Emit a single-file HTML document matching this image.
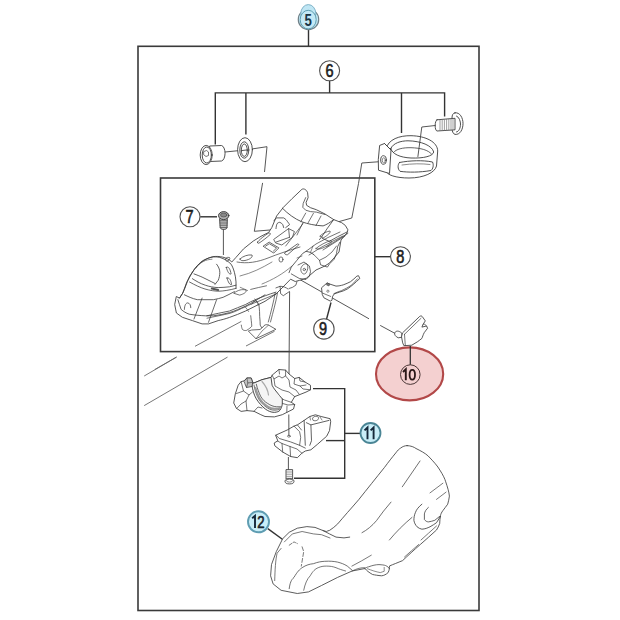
<!DOCTYPE html>
<html><head><meta charset="utf-8">
<style>
html,body{margin:0;padding:0;background:#fff;width:620px;height:620px;overflow:hidden}
svg{display:block}
text{font-family:"Liberation Sans",sans-serif}
</style></head><body>
<svg width="620" height="620" viewBox="0 0 620 620">
<rect width="620" height="620" fill="#fff"/>
<!-- frames -->
<g fill="none" stroke="#3a3a3a" stroke-width="1.6">
<rect x="138" y="46.3" width="341" height="564.2"/>
<rect x="160.5" y="178" width="214.3" height="173.6"/>
</g>
<!-- bracket lines -->
<g fill="none" stroke="#333" stroke-width="1.4">
<line x1="308.5" y1="29.5" x2="308.5" y2="46"/>
<line x1="329.6" y1="80.8" x2="329.6" y2="92.9"/>
<polyline points="215.3,144.5 215.3,92.9 444.6,92.9 444.6,116.5"/>
<line x1="245.9" y1="92.9" x2="245.9" y2="134.4"/>
<line x1="401.5" y1="92.9" x2="401.5" y2="133"/>
<line x1="200.2" y1="216.8" x2="217" y2="216.8"/>
<line x1="374.8" y1="256.7" x2="390.6" y2="256.7"/>
<line x1="326.5" y1="319.2" x2="331" y2="302.5"/>
<polyline points="313,388.6 344.7,388.6 344.7,478.3 294,478.3"/>
<line x1="326" y1="440.6" x2="344.7" y2="440.6"/>
<line x1="344.7" y1="433.4" x2="360.5" y2="433.4"/>
<line x1="267.8" y1="528.6" x2="282.7" y2="539.5"/>
</g>
<!-- thin leader lines -->
<g fill="none" stroke="#444" stroke-width="0.9">
<polyline points="225,152 245,150 267,146.7 264.5,172"/>
<polyline points="262.6,182.9 254.3,231.3 277.1,229.4"/>
<polyline points="382,161.5 361.8,163 358.5,183.6 351.8,218 339,221.6"/>
<line x1="291" y1="274.5" x2="369" y2="318.8"/>
<line x1="380.2" y1="325.4" x2="394.8" y2="333.3"/>
<line x1="223.4" y1="229" x2="223.4" y2="255"/>
<line x1="289.6" y1="291.8" x2="289" y2="374.7"/>
<line x1="288.4" y1="457" x2="288.4" y2="472"/>
</g>
<!-- diagonal body lines (light) -->
<g fill="none" stroke="#666" stroke-width="0.9">
<line x1="144.2" y1="376" x2="176.5" y2="357.1"/>
<line x1="144.2" y1="405.6" x2="227.5" y2="357.1"/>
<line x1="154.8" y1="369.5" x2="176.6" y2="357"/>
<line x1="195" y1="346.3" x2="241.3" y2="321.4"/>
<line x1="246" y1="346" x2="274.5" y2="331.3"/>
</g>
<!-- PARTS -->
<g id="parts" fill="#fff" stroke="#3c3c3c" stroke-width="0.9" stroke-linejoin="round" stroke-linecap="round">
<!-- barrel nut -->
<path d="M210,146 L221.5,145.5 A4,7.8 0 0 1 221.5,161 L210,161.5 Z"/>
<ellipse cx="206.2" cy="155" rx="6" ry="9.6"/>
<ellipse cx="206.8" cy="155" rx="4.6" ry="8"/>
<path d="M204,151.5 l2.5,-1 l2,1.5 l0,3.5 l-2.5,1 l-2,-1.5 z" stroke-width="0.7"/>
<!-- washer -->
<ellipse cx="245" cy="149.7" rx="7.4" ry="12"/>
<ellipse cx="244.3" cy="150" rx="4.5" ry="8.2"/>
<ellipse cx="244.3" cy="150.2" rx="3" ry="6.2"/>
<line x1="241.3" y1="150.6" x2="247.3" y2="149.9" stroke="#444" stroke-width="0.9"/>
<!-- bolt -->
<path d="M455,112.8 C460,112 463,118 463,123.5 C463,129.5 460,135 455,134.4 C453,134 452,131 452,128 L452,118 C452,115 453,113 455,112.8 Z"/>
<path d="M437,119.8 L455,118.3 L455,129.8 L437,131 C434.5,130.5 434.5,120.3 437,119.8 Z"/>
<g fill="none" stroke="#777" stroke-width="0.7">
<path d="M440,120 v10.6 M442.2,119.8 v10.7 M444.4,119.6 v10.7 M446.6,119.4 v10.7 M448.8,119.2 v10.7 M451,119 v10.7 M453,118.8 v10.6"/>
</g>
<path d="M456.5,116 C459.5,117 460.5,122 460.5,124 C460.5,128 459,131.5 456.5,132" fill="none"/>
<!-- clamp band -->
<path d="M386,149 C388,139 400,135.5 411,135.7 C426,136 437.5,142 437.7,151 L436.5,166 C435,172.5 424,178 409,178 C396,178 386.5,175 386,171 Z"/>
<path d="M390.8,148.5 C393,143 401,140.8 408,140.8 C421,141 432,145.5 433.7,152 C433,156 424,158.5 411,158 C400,157.5 392,154 390.8,148.5 Z"/>
<path d="M393.5,152.5 C396,149 403,147.5 411,147.7 C421,148 428,150 431.5,154" fill="none" stroke-width="0.8"/>
<path d="M399.5,162.5 C410,160.5 423,160 432.5,162 C434,165 433,169 431,170.5 C420,172.5 408,172.5 400,171.3 C397.5,169 397.5,164.5 399.5,162.5 Z"/>
<path d="M402,165 C412,163.5 422,163.5 430,164.5" fill="none" stroke-width="0.6"/>
<path d="M380,145.3 L384.5,143.5 L391,150 L389.5,173.5 L378.5,170.2 L378.3,160 Z"/>
<ellipse cx="383.5" cy="160" rx="2.8" ry="4.3"/>
<ellipse cx="383.8" cy="160.3" rx="1.5" ry="2.6" fill="none" stroke-width="0.6"/>
<path d="M384.5,143.5 L391,150" fill="none"/>
<polyline points="435.3,125.5 421.8,127 417.9,156.5" fill="none" stroke="#444" stroke-width="0.9"/>
<!-- screw 7 -->
<path d="M220,218.5 L227.3,218.5 L227,228 C226,230 221,230 220.3,228 Z" fill="#c8c8c8" stroke="#333"/>
<path d="M220,220.8 h7.3 M220,223 h7.2 M220.1,225.2 h7 M220.3,227.4 h6.6" fill="none" stroke="#555" stroke-width="0.9"/>
<ellipse cx="223.7" cy="215.6" rx="5.2" ry="4" fill="#b0b0b0" stroke="#333"/>
<ellipse cx="223.7" cy="215" rx="3.2" ry="2" fill="#888" stroke="#444" stroke-width="0.6"/>
</g>
<!-- MAIN BODY -->
<g id="body" fill="#fff" stroke="#3a3a3a" stroke-width="0.85" stroke-linejoin="round" stroke-linecap="round">
<path d="M176.3,312.6 L174.7,304.5 L176.3,296.5 L179.5,298.1 L182.7,293.2 L186.8,282.1 L192.4,272.3 C196,266 203,259 212.9,256.7 C219,255.8 227,257 231.8,262 L235.8,257.6 L243.5,248.9 L253.2,241.1 L261,236.3 L268.7,232.4 L271.8,227.6 L276.6,216 L283.4,207.3 L292.1,198.6 L301.8,189.4 C303,188.5 306,188.6 307.6,192.7 L308.1,197.6 L306.1,202.4 L306.6,205.3 L310.5,207.7 L316.3,209.7 L325,214 L333.7,219.6 L341.7,222.7 L345.3,225.4 L347.9,229.8 L347,233 L341,240 L339,252 L334,258 L329,263.4 L324.5,266.2 L316,270 L306.5,278.1 L299.7,280.3 L295.2,281.5 L290.6,279.2 L283,287 L276,294 L265,301.3 L245.6,311 C240,313.5 235,315.5 229.5,317.4 C225,319 221,320 218.2,320.6 L208.5,323.9 L202.1,323.9 L192.4,320.6 L182.7,317.4 Z"/>
<g fill="none">
<!-- peak inner -->
<path d="M305.7,197.6 L303.2,203.4 L302.8,207.3 L305.7,210.2 L310.5,211.6 L316.3,212.1 L325,214.5" stroke-width="0.75"/>
<!-- band -->
<path d="M282.4,208.2 C288,214 295,219 301.8,221.8 C308,224 315,225.5 323.1,225.9 C327,224.5 330,222.5 333.7,219.6" />
<path d="M305.7,213.1 L300.8,221.8 M313.4,213.4 L308.1,222.8 M321,216 L316,225.5" stroke-width="0.7"/>
<!-- right block -->
<path d="M333.7,219.6 L327.5,228.1 L322.2,236.1 L319.5,239.6 M322.2,238.3 L329.3,241.4 L337.3,236.9 L347,232" stroke-width="0.8"/>
<path d="M347.9,233.4 L326.6,246.7 M345,236 L323,250" stroke-width="0.7"/>
<!-- left hole features -->
<path d="M274,220.8 C275,219 276,218 277,217.9 L283.7,217.9 C285.5,219 287,220.5 287.6,221.8 C288.5,222.8 289.2,223.8 289.5,224.7 L285.7,227.6" stroke-width="0.8"/>
<path d="M276,228.6 C276.2,226.5 276.5,225 277,223.7 C277.8,222.8 278.8,222.3 279.8,222.3 C281,222.8 282.2,223.6 282.8,224.7 L283.7,227.6" stroke-width="0.8"/>
<path d="M302.8,222.8 L297,235 M285.7,246 L303,223.7" stroke-width="0.7"/>
<!-- slots -->
<path d="M257.6,242.1 C258,240.5 266,234.5 268.5,233.2 C270,232.8 271,233.5 270.2,234.5 C267,237.5 261,242 258.8,243.2 C257.8,243.5 257.4,243 257.6,242.1 Z" stroke-width="0.75"/>
<path d="M263.4,246 L269.2,242.1 L278.9,247.9 L274,252.8 Z M265.5,246.2 L269.3,243.7 L276.6,248 L273.5,251" stroke-width="0.75"/>
<path d="M274,239.2 L288.6,228.6 L294.4,231.5 L292.4,237.3 L281.8,245 L276,243.1 Z M276,242.1 L289.5,237.3 M288.6,228.6 L289.5,237.3" stroke-width="0.75"/>
<path d="M284.7,252.8 L297.3,244 C298.3,243.7 299,244.3 298.7,245 L287.6,254.7 C286.5,255 285,254.5 284.7,253.7 Z" stroke-width="0.75"/>
<ellipse cx="281" cy="259.5" rx="2" ry="2.6" stroke-width="0.7"/>
<!-- body surface lines -->
<path d="M237,262 C247,264 258,262 268,258 C278,254 290,250 300,247" stroke-width="0.7"/>
<path d="M240,276 C252,273 262,268 272,262" stroke-width="0.6"/>
<path d="M262,284 C272,280 283,274 292,266" stroke-width="0.6"/>
<!-- mechanism -->
<path d="M289,272.7 L291.3,267.1 L296.9,260.3 L302.6,253.5 L306,251.3 L310.5,252.4 L313.9,254.7" stroke-width="0.8"/>
<path d="M291.3,273.9 L299.2,278.4 L306,279.5 L309.4,276.1 L310.5,271.6 L309.4,266 L304,262 L298,265" stroke-width="0.75"/>
<path d="M301,268 C302,265 305,263 307,264 C308.5,266 308,270 306,273 C304,275 302,274 301,271 Z" stroke-width="0.7"/>
<circle cx="304.3" cy="269.5" r="1.2" stroke-width="0.7"/>
<path d="M319.5,260.3 L320.6,264.8 L327.4,267.1 L329.7,263.7 L334.2,259.2 L336.5,253.5 L337.6,246.8 L339.8,242.3" stroke-width="0.75"/>
<path d="M313.9,254.7 L319.5,260.3 L326,257 L332,252 L336.5,246" stroke-width="0.7"/>
<path d="M306,251.3 L316,244 L328,237.5 L340,232 M309,255 L320,248 L333,241 L343,236" stroke-width="0.7"/>
<path d="M316,248.5 C320,245 326,242 331,240.5 C332.5,241.5 330,244.5 326,246.5 C322,248.5 318,250 316,248.5 Z" stroke-width="0.7"/>
<path d="M320,236 C323,233 327,231.5 330,231 C331,232.5 328,235 324,237.5 Z" stroke-width="0.7"/>
<path d="M296.9,281.8 L295.8,285.2 L292.4,287.4 L289,288.5" stroke-width="0.75"/>
<path d="M310.5,252.4 L313,246 M297,258 L302,256" stroke-width="0.6"/>
<!-- dome -->
<path d="M192.4,272.3 C195,268 200,262 203.7,260.2 C207,258.5 210,257.3 213.4,256.9 C216,256.8 218,256.9 219.8,257.4 C222,258 224,259 226.3,260.2 C228,261.5 230,263 231.1,264.2 C232.5,266.5 233.5,269 234.4,272.3 C235.2,275 235.8,278.5 236,281.9 L236,288.4"/>
<path d="M194,273.9 C197,275 199.5,276 202.1,277.1 C205,278.5 209,280.5 211.8,281.9 L215,283.5" stroke-width="0.8"/>
<path d="M216.6,264.2 C218.5,266.5 219.8,269.5 219.8,272.3 C219.8,275 219.2,278 218.2,280.3 L215,284.4" stroke-width="0.8"/>
<path d="M196,268 C200,262 206,259.5 212,259.2" stroke-width="0.6"/>
<path d="M192.4,278.7 C196,281 200,283.5 205.3,285.2 C209,286.5 214,287.5 218.2,287.6 C222,287.5 226,287.2 229.5,286.8 L236,285.2" stroke-width="0.8"/>
<path d="M189.5,282 C195,285 200,287.5 205,289 C210,290.5 215,291.2 219,291.2 C224,291 229,290.2 236,288.4" stroke-width="0.75"/>
<path d="M211.8,288.6 L218.2,290" stroke="#555" stroke-width="2"/>
<path d="M192.4,272.3 C191,274 190,275.5 189.2,277.1 C188,280 187,282.5 186,285.2 C185,288 183.8,290.8 182.7,293.2 L179.5,298.1" stroke-width="0.85"/>
<path d="M177.9,299.7 C179,303 180,306.5 181.1,309.4 C183.5,311.5 186,313 189.2,314.2 C194,315 200,315.6 205.3,315.8 L213.4,315.8 C219,315.2 224,314 229.5,312.6 C235,311 240,308.5 245.6,306.1 C252,303 258,299 265,294.8" stroke-width="0.8"/>
<path d="M184.4,294.8 C188,296.5 192,298.5 197.3,299.7 L213.4,299.7 C217,299 220,298.3 223.1,297.3 C227,295.5 231,293.5 234.4,291.6" stroke-width="0.8"/>
<path d="M202.1,298.1 L194,319 M216.6,299.7 L208.5,322.3" stroke-width="0.75"/>
<path d="M184.4,309.4 C184.5,305 186,303 187.6,302.9 C189.5,303 190.8,305 190.8,307.7" stroke-width="0.75"/>
<path d="M226.3,267.4 C228,266 230,268 231.1,273.9 C229.5,275 227.5,272 226.3,267.4 Z" stroke-width="0.75"/>
<path d="M227,278 C229,277 231,280 231.5,284.5 C230,285.5 228,282 227,278 Z" stroke-width="0.75"/>
<path d="M225.5,260 C225,258 227,256.8 229.5,257.5 C230.5,259 229,261 226.5,261.2" stroke-width="0.7"/>
<path d="M240,259 C243,256 248,254.5 252,255 C253,257 250,259.5 245,260.5 C242,261 240,260.5 240,259 Z" stroke-width="0.75"/>
<path d="M234,293 C238,290 242,289 246,290 C247,292 244,294 240,295 Z" stroke-width="0.7"/>
<!-- cable / lower -->
<path d="M206.9,315.8 C215,314 222,312.5 229.5,311 C235,309 240,306.5 245.6,304.5 C249,302.5 252,301 255.3,299.7 C262,297 268,294.5 276,292.1" stroke-width="0.8"/>
<path d="M207,318.2 C215,316.5 223,315 230,313.3 C236,311.5 240,309 245,307 C250,304.5 254,303 258,301.5 C264,299 270,296.5 276,294" stroke-width="0.7"/>
<path d="M250.7,289.4 C256,288 261,287 266.5,285.8" stroke-width="0.7"/>
<path d="M240.2,287.3 L247.6,290.5" stroke-width="0.6"/>
<path d="M275.9,287.9 L280.1,286.3 L280.6,293.6 L283.3,295.7 L289.5,291.5 M280.1,286.3 C283,286 286,287.5 288,289" stroke-width="0.75"/>
<path d="M277.5,293 C276,302 273,312 270.5,322 M275.2,293 C273.5,302 271,312 268.3,322" stroke-width="0.7"/>
<path d="M251.8,304.1 C253,302 255,300.5 256,301 C258,302.5 259.1,304 259.1,306.2 C259.5,310 259.7,313 259.7,316.7 C260,320 260.2,322.5 260.2,325.1 C260.8,326.5 261.5,327.5 262.3,328.3" stroke-width="0.75"/>
<path d="M254.9,298.9 C256.5,300.5 257.5,302.5 258.1,305.2" stroke-width="0.6"/>
<path d="M248.6,331.4 L256,338.7 L275.9,329.3 L268.6,325.1 C266,324 264,325 263,327 L260,329.5 L252,330 Z" fill="#fff" stroke-width="0.75"/>
<path d="M256,338.7 L262,331 L268.6,325.1" stroke-width="0.6"/>
<path d="M241.3,325.1 C241.5,327 242,328.5 242.3,329.3 C243.5,330.5 245,330.7 246.5,330.4 C249,329 250.8,327.5 251.8,326.2 C251.5,322 251,318.5 250.7,315.7" stroke-width="0.7"/>
<path d="M245.5,307.3 C246.5,308.5 247.8,310 248.6,311.5" stroke-width="0.6"/>
</g>
</g>
<!-- PART 9 lever -->
<g fill="#fff" stroke="#3c3c3c" stroke-width="0.85" stroke-linejoin="round">
<path d="M321.5,287.8 L327.1,282.9 L329.9,284.1 L336,286.1 C339,286 341,285.5 343.2,284.9 C346,283.8 348.5,282.8 350.5,281.7 C353,279.8 355,278 356.9,276.1 L358.5,275.7 L359.8,278.5 C357.5,280.5 355.5,282.5 353.7,284.1 C351.5,286 349.5,287.5 347.3,289 C344.5,290.5 342,291.5 339.2,292.2 L334.4,293.8 L332.7,296.2 L331.9,300.3 L330.3,301.1 L323.9,297.8 L322.3,294.6 Z"/>
<path d="M322.3,293 L331.1,296.6 M333.5,293.8 C336,292.5 339,291.5 341.6,290.6 C345,289 348.5,287.2 351.3,285.3 C353.5,283 355.8,280.8 357.7,278.5" fill="none" stroke-width="0.7"/>
<path d="M327.1,282.9 L329.9,284.1 L329,286 L326.5,285 Z" fill="#777" stroke-width="0.5"/>
<circle cx="327.9" cy="291.2" r="1.1" fill="none" stroke-width="0.6"/>
</g>
<!-- PART 10 -->
<g fill="#fff" stroke="#3c3c3c" stroke-width="0.85" stroke-linejoin="round" stroke-linecap="round">
<path d="M401.6,333 C399,330.5 396,330.5 394.8,332.7 C394,334.5 395.5,336.5 398.2,337.8 L401.6,337.3 Z"/>
<path d="M402.7,332.7 L419.7,316.4 C421,315.5 422,316 422.5,316.9 L425.3,320.9 L423.1,324.3 L421.9,327.1 L426.5,326 L427.6,328.2 L424.2,332.7 C423,335 422.5,337 421.9,338.4 C420,340 418.5,341 417.4,341.8 L411.8,345.2 L403.9,345.7 L402.7,342.9 L401.6,337.3 Z"/>
<path d="M404.5,334.3 L421,318.3 M404.5,334.3 L405.3,345.5" fill="none" stroke-width="0.7"/>
<path d="M423.1,324.3 C424.5,323.5 425.5,324.5 426.5,326" fill="none" stroke-width="0.7"/>
</g>
<!-- PART 11a -->
<g fill="#fff" stroke="#3a3a3a" stroke-width="0.85" stroke-linejoin="round" stroke-linecap="round">
<path d="M233.8,402.6 L235.3,393.9 L238.2,385.2 L241.1,381.6 L244,380.9 L246.9,378 L251.2,378 L252.7,382.3 L254,383 L262,379.7 L271,377.4 L272.1,375.2 L278.9,369.5 L285.6,370.1 L289,374 L294.7,378.5 L299.2,377.4 L304.8,381.9 L310.5,385.3 L310.5,389.8 L306,392.1 L294.7,396.6 L291.3,402.3 L294.7,404.5 L293.5,409 L286.8,412.4 L282.3,414.7 L274.4,416.9 L265,416.5 L260.8,414.7 L254,411.3 L247,410.6 L241.1,411.4 L236.7,408.5 Z"/>
<path d="M251.8,384.2 C252.5,390 254,395 256.3,398.9 C259,403 262,406.5 265.3,409 C268,411 271,412.4 274.4,412.4 C277,412.2 279,411.5 280,410.2 C281.5,408 282.3,405.5 282.3,403.4 L282.3,398.9 C280,396 278.5,394.5 277.7,393.2 C275,390 273.5,388 272.1,385.3 L271,377.4 L262,379.7 L254,383 Z" fill="#f5f5f5" stroke-width="0.9"/>
<g fill="none">
<path d="M256.3,384.2 C257.5,389 259,393 260.8,396.6 C263,400 265,402 267.6,403.4 C270.5,405.5 273.5,406.5 276.6,406.8 L281.1,406.8" stroke-width="0.75"/>
<path d="M254,385 C255,391 257,396 259,399.5 C262,404 266,407.5 270,409.3 C273,410.5 277,410.5 280,409" stroke-width="0.7"/>
<path d="M255.5,388 C257,394 259.5,399 262.5,402.5 C266,406 270,408.3 274,408.8 C277,409 279,408.5 280.5,407.5" stroke="#9a9a9a" stroke-width="2"/>
<path d="M262,381.5 C266,386 268,390 268.5,395" stroke="#aaa" stroke-width="1.2"/>
<path d="M241.1,381.6 L243.5,391 L236.5,393.5 M243.5,391 L249,395 L252.5,392" stroke-width="0.7"/>
<path d="M244.2,381 L246.9,378 L251.2,378 L252.7,382.3 L252,386.5 L246.5,387.5 L245,384 Z" fill="#c4c4c4" stroke-width="0.75"/>
<path d="M246.9,378 L247.8,383 L252.7,382.3 M247.8,383 L246.5,387.5" stroke-width="0.6"/>
<path d="M249,395 L246,401 L247,410.6 M236.7,408.5 L241,404 L246,401" stroke-width="0.7"/>
<path d="M254,411.3 L258,407 L262,408" stroke-width="0.7"/>
<path d="M272.1,375.2 L274,379 L279,376 L282,378 L285.6,376 L285.6,370.1" stroke-width="0.7"/>
<path d="M278.9,369.5 L279.5,374 M285.6,376 L289,380 L290,387 L296,390 L299,394" stroke-width="0.7"/>
<path d="M274,379 L275,386 L282,390 L289,392 L294.7,396.6" stroke-width="0.7"/>
<path d="M294.7,378.5 L294,384 L300,386 L306,385 M299.2,377.4 L300,381 L304.8,381.9 M300,386 L303,389 L310.5,389.8" stroke-width="0.7"/>
<path d="M282.3,398.9 L284.5,400 L291.3,402.3 M282.3,403.4 L288,405 L294.7,404.5 M286.8,412.4 L287,406" stroke-width="0.7"/>
</g>
</g>
<!-- PART 11b -->
<g fill="#fff" stroke="#3a3a3a" stroke-width="0.85" stroke-linejoin="round" stroke-linecap="round">
<path d="M275.9,435.1 L287.2,430 L294,426.1 L297.4,424.9 L304.1,420.4 L309.8,416.5 L315.4,414.8 L321.1,416.5 L330.1,418.7 L330.7,421.5 L329.5,430.6 L326.7,436.2 L317.7,444.1 L310.9,449.8 L305.3,451 L301.9,453.2 L297.4,457.7 L290.6,456.5 L282.7,452 L274.8,445.8 L274.2,443 L277.5,441 Z"/>
<g fill="none">
<path d="M306.4,422.7 L310.9,424.9 L329,420.4 M310.9,424.9 L311.5,440.7 L309.8,445.3 M304.1,420.4 L305.3,445.3" stroke-width="0.8"/>
<path d="M312.5,418.5 C313,416 317,415.5 318.5,417.5 C319,420 316,421.5 313.5,420.5 Z" stroke-width="0.7"/>
<path d="M320,417 L322,420 M309.8,416.5 L310.5,420" stroke-width="0.6"/>
<path d="M275.9,435.1 L279.3,438.5 L290.6,441.9 L299.6,445.3 L305.3,448.1" stroke-width="0.75"/>
<path d="M277.5,441 L282,443.5 L290,446.5 L297,449 L301.9,453.2 M282,443.5 L282.7,452 M290,446.5 L290.6,456.5" stroke-width="0.7"/>
<path d="M294,426.1 L299.6,431.7 L300.7,437.4 L299.6,445.3 M297.4,424.9 L301.5,430" stroke-width="0.7"/>
<ellipse cx="288.9" cy="436.2" rx="1.4" ry="1" stroke-width="0.6"/>
</g>
</g>
<line x1="288.8" y1="414.5" x2="288.9" y2="436" stroke="#444" stroke-width="0.9"/>
<!-- screw 11 -->
<g fill="#fff" stroke="#3a3a3a" stroke-width="0.85">
<path d="M286,469.6 L292.6,469.6 L292.6,479 L286,479 Z" fill="#eee"/>
<path d="M286,472 h6.6 M286,474.3 h6.6 M286,476.6 h6.6" fill="none" stroke="#777" stroke-width="0.6"/>
<ellipse cx="289.5" cy="481.3" rx="4.5" ry="2.6"/>
<ellipse cx="289.5" cy="480.6" rx="3" ry="1.5" fill="none" stroke-width="0.6"/>
</g>
<!-- HOOD 12 -->
<g fill="#fff" stroke="#404040" stroke-width="0.85" stroke-linejoin="round" stroke-linecap="round">
<path d="M407.1,445.6 C411,445.8 414,447 416,448.5 C420,450.5 425,453 428.2,456 C434,462 437.5,466 439.9,470.1 C443,475 445,479 445.7,481.8 C447.5,487 449,492 449.4,496.1 C449,499 448.5,501.5 447.7,504.2 C446,506.5 444.5,508.5 442.9,510.6 C441.5,512.5 440.8,514 440.5,515.5 C440,518 439.8,521 439.7,523.5 C438.8,526 437.8,528 436.5,530 C431,535 425.5,540 420.3,544.5 C414,550 408,555.5 402.6,560.6 C398,562.5 393,564.5 389.6,565.9 C389.5,568 389.4,570 388.1,572.6 C386,574.5 384,575.5 381.6,575.8 C378,575.5 375,575 372.6,574.5 C369,572.5 366.5,570.5 365,568.5 L352.1,571 L337.6,577.4 L321.5,585.5 L308.5,591.9 L297.3,593.5 L281.1,590.3 L273.1,583.9 L270.6,575.8 L271.5,564.5 L276.3,551.6 L282.7,538.7 L289.2,532.3 L297.3,528.2 L306.9,526.6 L315,527.4 L323.1,530.6 L326.3,531.5 C327,531 328.5,530.8 329.7,530.3 C332.5,528.5 335,526.5 337.7,523.9 C341,520 344,516.5 347.4,512.6 C351.5,508 355,504 358.7,499.7 C363,494.5 367,489 371.6,483.5 C376,478 380,473 384.5,467.4 C388.5,462 392,457.5 395.8,452.9 C397.5,450.5 399,449 400.6,448.1 C402.5,446.5 405,445.6 407.1,445.6 Z"/>
<g fill="none">
<path d="M323.1,530.6 L329.5,533.9 L336,537.1 L344,537.9 L349.7,537.1" />
<path d="M284.4,541.9 L292.4,533.9 L302.1,531.5 L313.4,533.9 L321.5,534.7 L330,538" stroke-width="0.7"/>
<path d="M289.2,588.7 C290,583 291,580 294,577.4 C297,572 300,569 302.1,567.7 C306,565 310,564 313.4,563.7 C318,562 321,561.5 324.7,561.3 C330,561 334,561.3 337.6,562.1 C341,563 344,564 347.3,566.1 L352.1,570.2" stroke-width="0.75"/>
<path d="M303.7,590.3 C305,584 307,579 310.2,575.8 C313,571 315,569 318.2,567.7 C321,566.5 323,566.1 326.3,566.1 C330,566.1 333,566.5 336,567.7 C339,569 342,570 345.6,571" stroke-width="0.7"/>
<path d="M274.7,580.6 C275,570 275.5,560 277.1,553.2 L281.1,548.4" stroke-width="0.7"/>
<path d="M289.2,545.2 L294,541.9 L297.3,543.5" stroke-width="0.7" stroke-dasharray="3 1.5"/>
<path d="M302.1,546.8 L303.7,551.6 L301.3,566.1" stroke-width="0.7" stroke-dasharray="4 2"/>
<path d="M420,461 L402.3,486.8" stroke-width="0.75"/>
<path d="M391,502.1 C386,508 381,514 376.5,520.6 C372,526 367,530 362,532.7" stroke-width="0.75"/>
<path d="M412,517.4 C404,524 396,532 389.4,540" stroke-width="0.75"/>
<path d="M421.9,504.2 C418.5,507 416.5,509.5 415.5,512.3 C414.3,515 413.9,517.5 413.9,520.3 C414.3,523 415.5,525 417.1,526.8 C418.5,528 420,528.8 421.9,529.2 C425,529 427.5,528 430,526.8 C432.5,525.5 434.5,524 436.5,522.7 L440.5,516.3" stroke-width="0.85"/>
<path d="M428.4,507.4 C426,509.5 424.8,511.5 424.4,513.9 L424.4,519.5 C425.5,521 426.8,521.8 428.4,521.9 C430.5,521.6 432.8,521 434.8,520.3 L439.7,516.3" stroke-width="0.8"/>
<path d="M430,492.9 L442.9,483.2 M436.5,499.4 L446.1,492.1" stroke-width="0.7"/>
<path d="M436.5,526 C431,531 426,535.5 421,540 M418.7,544.5 C414,548.5 409,553 404.5,557" stroke-width="0.7"/>
<path d="M365,568.5 C366,567.5 367.5,567 368.7,566.8 C372,565.5 376,564.6 379,564.6 C382,564.8 384,565 385.5,565.5 C387.5,566.5 389,567.5 389.4,568.7" stroke-width="0.75"/>
<path d="M367.4,568.7 C372,570.5 376,571.8 380.3,572.6 L384.2,571.3 L384.2,567.4" stroke-width="0.6"/>
<path d="M352.1,571 C357,568.5 361,567.5 365,567.7" stroke-width="0.7"/>
<path d="M351.9,566.1 C358,563 365,559 371.3,555.2" stroke-width="0.7"/>
</g>
</g>
<!-- red ellipse -->
<ellipse cx="409.6" cy="373.9" rx="33.6" ry="26.5" fill="#f4d0d0" stroke="#b24848" stroke-width="2.1"/>
<line x1="410.3" y1="364.8" x2="410.3" y2="346" stroke="#333" stroke-width="1.3"/>
<!-- callouts -->
<g>
<circle cx="308.5" cy="19.4" r="10.2" fill="#c4e9f6" stroke="#6f8088" stroke-width="1.2"/>
<ellipse cx="308.3" cy="13.6" rx="7.5" ry="9" fill="#bfe6f4" stroke="#7fb3c8" stroke-width="1"/>
<ellipse cx="308.2" cy="19.6" rx="8" ry="9.3" fill="#c4e9f6" stroke="#5f9fb0" stroke-width="1"/>
<text transform="translate(308.2 25.6) scale(0.8 1)" font-size="16.5" text-anchor="middle" fill="#1a3545" font-weight="bold">5</text>
</g>
<g fill="#fff" stroke="#505050" stroke-width="1.1">
<circle cx="329.6" cy="70.8" r="10"/>
<circle cx="190" cy="216.8" r="10"/>
<circle cx="400.5" cy="256.7" r="9.9"/>
<circle cx="323.9" cy="328.9" r="10.2"/>
</g>
<circle cx="410.3" cy="374.6" r="9.8" fill="none" stroke="#4a3535" stroke-width="1"/>
<circle cx="370.5" cy="433" r="10" fill="#c9eef8" stroke="#4a8595" stroke-width="1.8"/>
<circle cx="258.5" cy="521.8" r="10.5" fill="#c9eef8" stroke="#5f9db2" stroke-width="1.9"/>
<g font-size="17.5" text-anchor="middle" fill="#1c1c1c" stroke="#1c1c1c" stroke-width="0.6">
<text transform="translate(329.6 77) scale(0.83 1)">6</text>
<text transform="translate(189.5 222.8) scale(0.83 1)">7</text>
<text transform="translate(400.3 262.9) scale(0.83 1)">8</text>
<text transform="translate(323.1 335) scale(0.83 1)">9</text>
<text transform="translate(261 528) scale(0.8 1)" font-size="16.5" fill="#15283a">2</text>
</g>
<!-- drawn digits -->
<g fill="none" stroke-width="1.9">
<path d="M403,372 L405.8,369.2 L405.8,380.2" stroke="#2a1818"/>
<ellipse cx="412.3" cy="374.7" rx="2.7" ry="4.9" stroke="#2a1818" stroke-width="1.8"/>
<path d="M364.5,430.4 L367.5,427.5 L367.5,439.2 M370.6,430.4 L373.6,427.5 L373.6,439.2" stroke="#15283a"/>
<path d="M252.2,518.3 L255,515.8 L255,527.9" stroke="#15283a"/>
</g>
</svg>
</body></html>
